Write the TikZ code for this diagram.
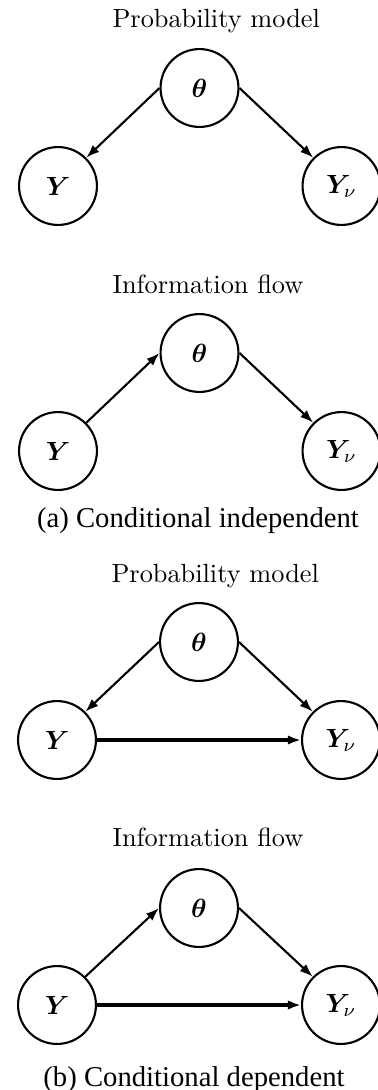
\documentclass[tikz,border=0pt]{standalone}
\usepackage{bm}
\usepackage{fontspec}
\newfontfamily\capfont{LiberationSerif-Regular.ttf}
\usetikzlibrary{arrows.meta}

\begin{document}
\begin{tikzpicture}[x=0.38pt,y=-0.38pt,
  var/.style={draw,circle,thick,minimum size=29.6pt,inner sep=0pt},
  edge/.style={-{Latex[length=5pt,width=3.6pt]},thick},
  heading/.style={anchor=base west,inner sep=0pt},
  capt/.style={anchor=base,inner sep=0pt,font=\capfont\fontsize{10.9}{13}\selectfont}]
\useasboundingbox (0,0) rectangle (377,1090);
% (a) probability model
\node[heading] (hA) at (112,27) {Probability model};
\node[var] (tA) at (199.5,88) {$\bm{\theta}$};
\node[var] (yA) at (58,186) {$\bm{Y}$};
\node[var] (nA) at (341.5,186) {$\bm{Y}_{\nu}$};
\draw[edge] (tA.west) -- (yA.north east);
\draw[edge] (tA.east) -- (nA.north west);
% (a) information flow
\node[heading] (hB) at (112,293) {Information flow};
\node[var] (tB) at (199.5,353) {$\bm{\theta}$};
\node[var] (yB) at (58,451) {$\bm{Y}$};
\node[var] (nB) at (341.5,451) {$\bm{Y}_{\nu}$};
\draw[edge] (yB.north east) -- (tB.west);
\draw[edge] (tB.east) -- (nB.north west);
\node[capt] (cA) at (198,527) {(a) Conditional independent};
% (b) probability model
\node[heading] (hC) at (111,582) {Probability model};
\node[var] (tC) at (199,642) {$\bm{\theta}$};
\node[var] (yC) at (57,740) {$\bm{Y}$};
\node[var] (nC) at (341,740) {$\bm{Y}_{\nu}$};
\draw[edge] (tC.west) -- (yC.north east);
\draw[edge] (tC.east) -- (nC.north west);
\draw[edge,very thick] (yC) -- (nC);
% (b) information flow
\node[heading] (hD) at (112,846) {Information flow};
\node[var] (tD) at (199,908) {$\bm{\theta}$};
\node[var] (yD) at (57,1005) {$\bm{Y}$};
\node[var] (nD) at (341,1005) {$\bm{Y}_{\nu}$};
\draw[edge] (yD.north east) -- (tD.west);
\draw[edge] (tD.east) -- (nD.north west);
\draw[edge,very thick] (yD) -- (nD);
\node[capt] (cB) at (194,1086) {(b) Conditional dependent};
\end{tikzpicture}
\end{document}
